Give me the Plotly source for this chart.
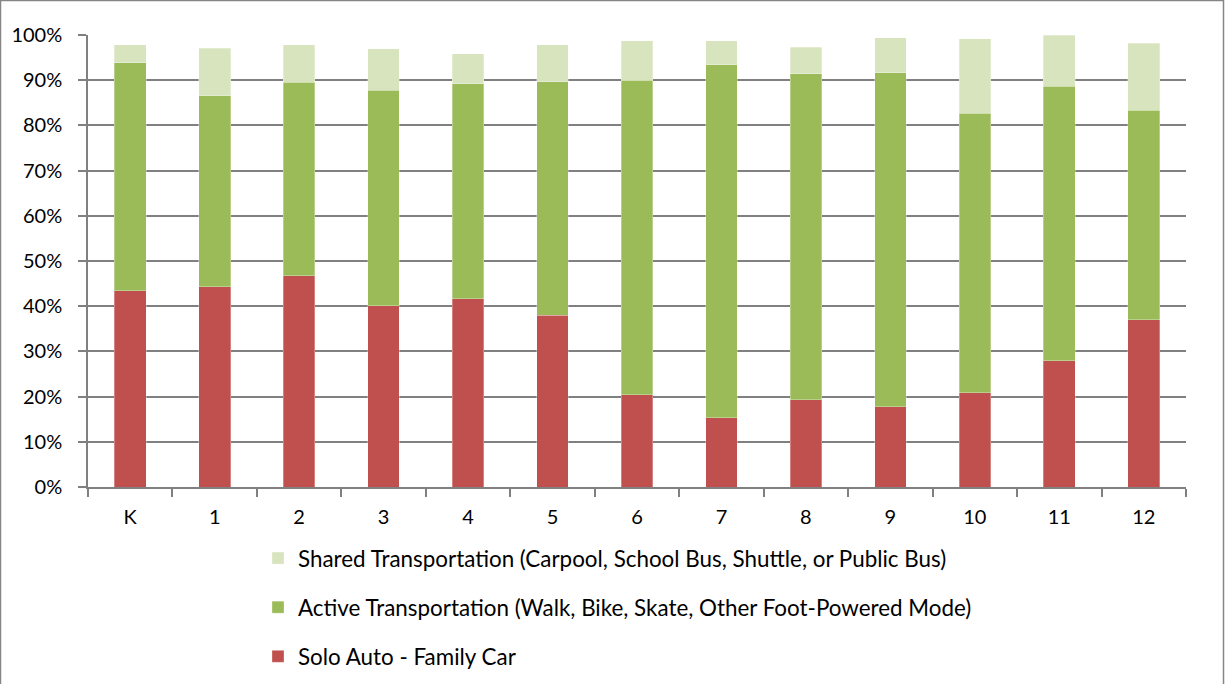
import plotly.graph_objects as go

grades = ["K", "1", "2", "3", "4", "5", "6", "7", "8", "9", "10", "11", "12"]
solo_auto = [43.4, 44.3, 46.7, 40.1, 41.7, 38.0, 20.4, 15.3, 19.3, 17.8, 20.9, 27.9, 37.0]
active_total = [93.9, 86.6, 89.5, 87.8, 89.2, 89.7, 90.0, 93.4, 91.4, 91.7, 82.7, 88.7, 83.3]
shared_total = [97.85, 97.1, 97.85, 97.0, 95.8, 97.85, 98.7, 98.7, 97.3, 99.4, 99.2, 100.0, 98.2]

active = [round(a - s, 2) for a, s in zip(active_total, solo_auto)]
shared = [round(t - a, 2) for t, a in zip(shared_total, active_total)]

names = [
    "Solo Auto - Family Car",
    "Active Transportation (Walk, Bike, Skate, Other Foot-Powered Mode)",
    "Shared Transportation (Carpool, School Bus, Shuttle, or Public Bus)",
]
colors = ["#C0504D", "#9BBB59", "#D7E4BD"]
series = [solo_auto, active, shared]

fig = go.Figure()
for i, (nm, vals, col) in enumerate(zip(names, series, colors)):
    fig.add_trace(go.Bar(
        x=grades, y=[v / 100 for v in vals], name=nm,
        marker=dict(color=col, line=dict(color="rgba(255,255,255,0.6)", width=0.5)),
        legendgroup=f"g{i}",
        legendrank=3 - i,
    ))

W, H = 1225, 684
L, R, T, B = 88, 39, 35, 197
pw, ph = W - L - R, H - T - B

def px_x(p):
    return (p - L) / pw

def px_y(p):
    return (H - B - p) / ph

fig.update_layout(
    width=W, height=H,
    margin=dict(l=L, r=R, t=T, b=B, autoexpand=False),
    barmode="stack",
    bargap=0.625,
    plot_bgcolor="white",
    paper_bgcolor="white",
    font=dict(family="Lato, Open Sans, sans-serif", size=20, color="black"),
    showlegend=True,
    legend=dict(
        orientation="v",
        traceorder="grouped",
        x=px_x(258), xanchor="left",
        y=px_y(537), yanchor="top",
        font=dict(size=22.4, color="black"),
        tracegroupgap=17,
        bgcolor="rgba(0,0,0,0)",
        itemwidth=30,
    ),
    xaxis=dict(
        showline=True, linecolor="#808080", linewidth=1.5,
        ticks="outside", ticklen=8, tickcolor="#808080", tickwidth=1.5,
        tickson="boundaries",
        showgrid=False,
        tickfont=dict(size=20),
        ticklabelstandoff=11,
    ),
    yaxis=dict(
        range=[0, 1], tickformat=".0%", dtick=0.1,
        showline=True, linecolor="#808080", linewidth=1.5,
        ticks="outside", ticklen=8, tickcolor="#808080", tickwidth=1.5,
        showgrid=True, gridcolor="#808080", gridwidth=1.5,
        zeroline=False,
        tickfont=dict(size=20),
        ticklabelstandoff=12,
    ),
    shapes=[
        dict(type="rect", xref="paper", yref="paper",
             x0=px_x(0.5), x1=px_x(1223.5), y0=px_y(700), y1=px_y(0.5),
             line=dict(color="#868686", width=1.5), fillcolor="rgba(0,0,0,0)",
             layer="below"),
    ],
)

fig.write_html("out.html", config={"displayModeBar": False},
               post_script="document.body.style.margin='0px';")
